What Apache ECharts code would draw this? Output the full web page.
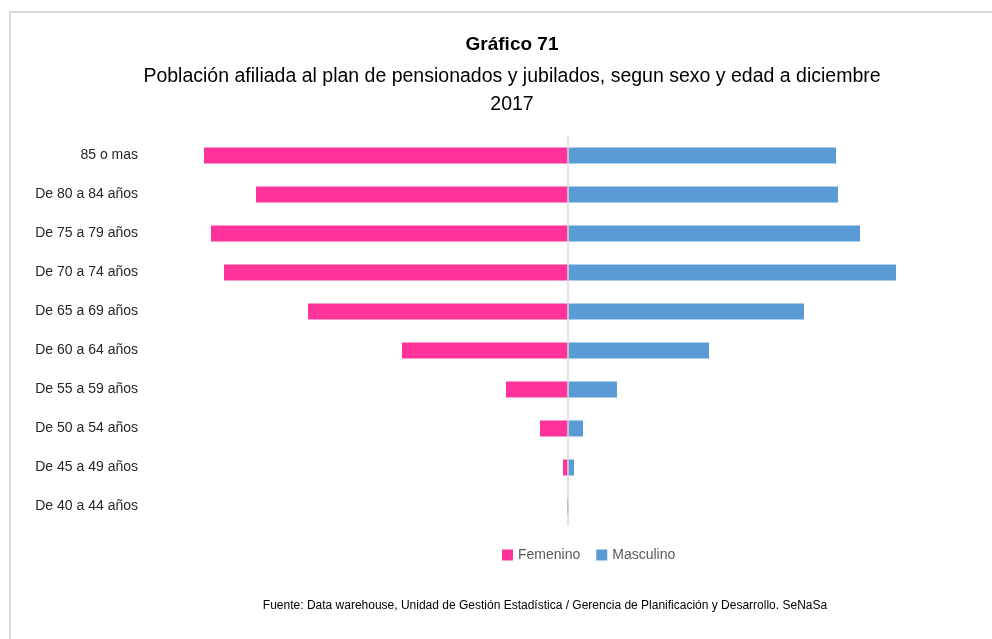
<!DOCTYPE html>
<html><head><meta charset="utf-8">
<script src="https://cdn.jsdelivr.net/npm/echarts@6/dist/echarts.min.js"></script>
<style>html,body{margin:0;padding:0;background:#fff}#c{width:992px;height:639px}</style>
</head><body><div id="c"></div>
<script>
const categories = ['85 o mas','De 80 a 84 años','De 75 a 79 años','De 70 a 74 años','De 65 a 69 años','De 60 a 64 años','De 55 a 59 años','De 50 a 54 años','De 45 a 49 años','De 40 a 44 años'];
const femenino = [364, 312, 357, 344, 260, 166, 62, 28, 5, 1];
const masculino = [268, 270, 292, 328, 236, 141, 49, 15, 6, 0.5];
const seriesNames = ['Femenino', 'Masculino'];
const titleText = 'Gráfico 71';
const subtitleText = 'Población afiliada al plan de pensionados y jubilados, segun sexo y edad a diciembre\n2017';
const sourceText = 'Fuente: Data warehouse, Unidad de Gestión Estadística / Gerencia de Planificación y Desarrollo. SeNaSa';

const FONT = '"Liberation Sans", Arial, sans-serif';
const chart = echarts.init(document.getElementById('c'));
chart.setOption({
  animation: false,
  backgroundColor: '#fff',
  graphic: [
    {type:'line', shape:{x1:10,y1:12,x2:992,y2:12}, style:{stroke:'#D9D9D9', lineWidth:2}},
    {type:'line', shape:{x1:10,y1:11,x2:10,y2:639}, style:{stroke:'#D9D9D9', lineWidth:2}}
  ],
  title: [
    {text: titleText, left: 507, top: 30, textAlign: 'center',
     textStyle:{fontFamily:FONT, fontSize:19, fontWeight:'bold', color:'#000'}},
    {text: subtitleText, left: 507, top: 58, textAlign: 'center',
     textStyle:{fontFamily:FONT, fontSize:19.5, fontWeight:'normal', color:'#000', lineHeight:28}},
    {text: sourceText, left: 540, top: 595, textAlign: 'center',
     textStyle:{fontFamily:FONT, fontSize:12, fontWeight:'normal', color:'#000'}}
  ],
  legend: {
    data: seriesNames, left: 497, top: 543, itemWidth: 11, itemHeight: 11, itemGap: 16,
    icon: 'rect',
    textStyle: {fontFamily:FONT, fontSize:14, color:'#595959'}
  },
  grid: {left: 148, width: 840, top: 136, height: 390},
  xAxis: {type:'value', min:-420, max:420, show:false},
  yAxis: {type:'category', data: categories, inverse: true,
    axisLine:{show:false}, axisTick:{show:false},
    axisLabel:{fontFamily:FONT, fontSize:14, color:'#262626', margin:10}},
  series: [
    {name: seriesNames[0], type:'bar', data: femenino.map(v => -v), barWidth: 16, barGap:'-100%',
     itemStyle:{color:'#FF3399'},
     markLine:{silent:true, symbol:'none', label:{show:false}, data:[{xAxis:0}],
       lineStyle:{color:'#D9D9D9', width:1.5, type:'solid'}}},
    {name: seriesNames[1], type:'bar', data: masculino, barWidth: 16,
     itemStyle:{color:'#5B9BD5'}}
  ]
});
</script></body></html>
